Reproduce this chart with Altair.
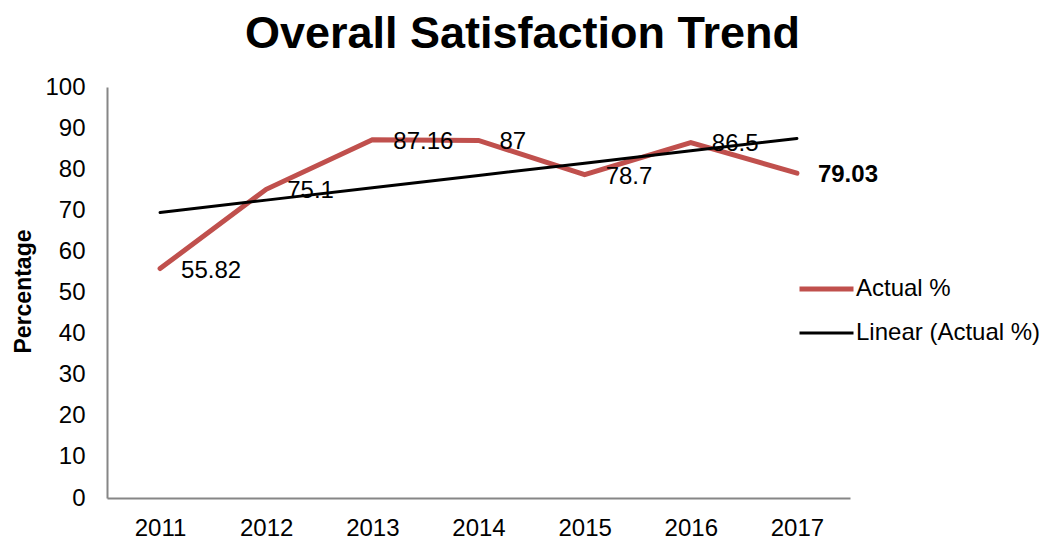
import altair as alt
import pandas as pd
import numpy as np

FONT = "Liberation Sans"

years = ["2011", "2012", "2013", "2014", "2015", "2016", "2017"]
actual = [55.82, 75.1, 87.16, 87, 78.7, 86.5, 79.03]
series_names = ["Actual %", "Linear (Actual %)"]
series_colors = ["#C0504D", "#000000"]
y_ticks = list(range(0, 101, 10))
bold_year = "2017"

# Linear trend (least squares) derived from the actual values
idx = np.arange(1, len(years) + 1)
slope, intercept = np.polyfit(idx, actual, 1)
trend = (slope * idx + intercept).tolist()

df = pd.DataFrame({
    "year": years * 2,
    "value": actual + trend,
    "series": [series_names[0]] * len(years) + [series_names[1]] * len(years),
})
labels = pd.DataFrame({
    "year": years,
    "value": actual,
    "label": [f"{v:g}" for v in actual],
})

x = alt.X("year:O", sort=years, scale=alt.Scale(padding=0.5),
          axis=alt.Axis(title=None, labelAngle=0, labelPadding=18))
y = alt.Y("value:Q", scale=alt.Scale(domain=[0, 100], nice=False),
          axis=alt.Axis(values=y_ticks, title="Percentage", titleFontSize=23,
                        titleFontWeight="bold", titleX=-84, titleY=204,
                        titleAngle=270, titleBaseline="middle", titleAlign="center",
                        labelPadding=22))

leg = dict(title=None, orient="none", legendX=690, legendY=192,
           symbolType="stroke", symbolSize=2916, labelFontSize=24, labelFont=FONT,
           labelColor="black", padding=0, clipHeight=20, rowPadding=20, labelOffset=0,
           labelLimit=400)

lines = alt.Chart(df).mark_line(strokeCap="round").encode(
    x=x, y=y,
    color=alt.Color("series:N", scale=alt.Scale(domain=series_names, range=series_colors),
                    legend=alt.Legend(**leg)),
    strokeWidth=alt.StrokeWidth("series:N", scale=alt.Scale(domain=series_names, range=[5, 3]),
                                legend=alt.Legend(**leg)),
)

text_normal = alt.Chart(labels).transform_filter(
    alt.datum.year != bold_year
).mark_text(align="left", baseline="middle", dx=21, dy=2, fontSize=24, font=FONT,
            color="black").encode(x=x, y=y, text="label:N")

text_bold = alt.Chart(labels).transform_filter(
    alt.datum.year == bold_year
).mark_text(align="left", baseline="middle", dx=21, dy=2, fontSize=24, font=FONT,
            fontWeight="bold", color="black").encode(x=x, y=y, text="label:N")

chart = alt.layer(lines, text_normal, text_bold).properties(
    width=743, height=411,
    autosize="none",
    padding={"left": 99, "top": 79, "right": 191, "bottom": 42},
    title=alt.Title("Overall Satisfaction Trend", fontSize=45, fontWeight="bold", font=FONT,
                    anchor="middle", dx=44, dy=-14, color="black"),
).configure_view(stroke=None).configure_axis(
    labelFont=FONT, titleFont=FONT, labelFontSize=24, labelColor="black", titleColor="black",
    domainColor="#868686", domainWidth=2, ticks=False, grid=False,
)

chart.save("out.html", embed_options={"renderer": "svg", "actions": False})
